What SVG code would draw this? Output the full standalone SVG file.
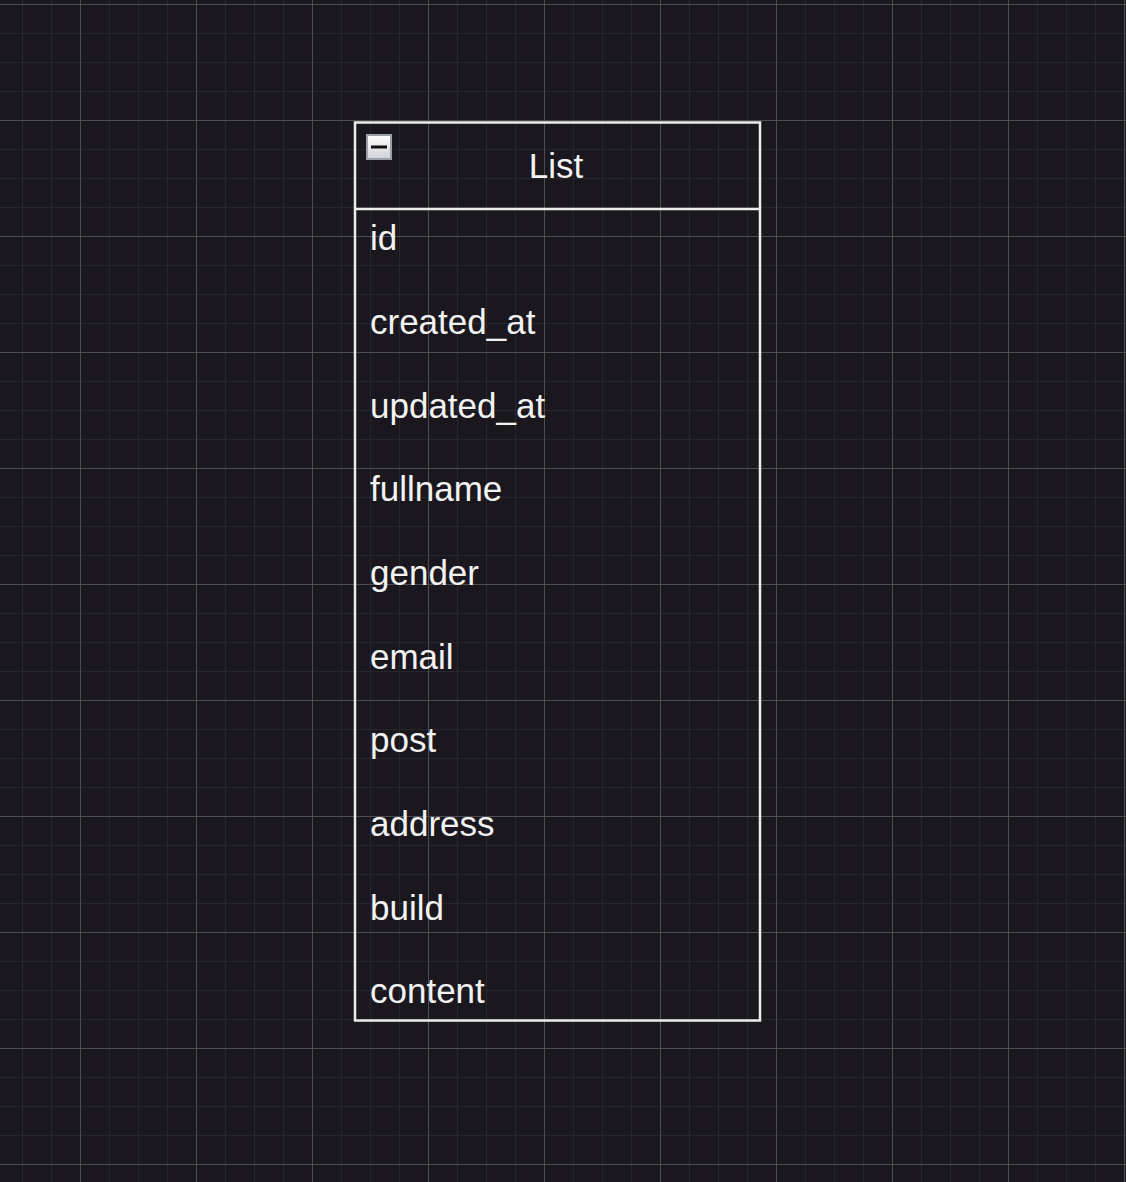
<svg xmlns="http://www.w3.org/2000/svg" width="1126" height="1182" viewBox="0 0 1126 1182">
  <style>
    .fld { font-family: "Liberation Sans", Arial, sans-serif; font-size: 35px; fill: #f2f2f2; }
    .title { font-family: "Liberation Sans", Arial, sans-serif; font-size: 35px; fill: #f2f2f2; text-anchor: middle; }
  </style>
  <defs>
    <pattern id="grid" patternUnits="userSpaceOnUse" x="80" y="4" width="116" height="116">
      <rect x="29" y="0" width="1" height="116" fill="#28262d"/>
      <rect x="58" y="0" width="1" height="116" fill="#28262d"/>
      <rect x="87" y="0" width="1" height="116" fill="#28262d"/>
      <rect x="0" y="29" width="116" height="1" fill="#28262d"/>
      <rect x="0" y="58" width="116" height="1" fill="#28262d"/>
      <rect x="0" y="87" width="116" height="1" fill="#28262d"/>
      <rect x="0" y="0" width="1" height="116" fill="#4e4d52"/>
      <rect x="0" y="0" width="116" height="1" fill="#4e4d52"/>
    </pattern>
    <linearGradient id="btn" x1="0" y1="0" x2="0" y2="1">
      <stop offset="0" stop-color="#ffffff"/>
      <stop offset="1" stop-color="#cfd2d6"/>
    </linearGradient>
  </defs>
  <rect x="0" y="0" width="1126" height="1182" fill="#1a181e"/>
  <rect x="0" y="0" width="1126" height="1182" fill="url(#grid)"/>
  <g id="node-list">
    <rect x="355" y="122.5" width="405" height="898" fill="none" stroke="#ececec" stroke-width="2.5"/>
    <line x1="355" y1="209" x2="760" y2="209" stroke="#ececec" stroke-width="2.5"/>
    <g id="collapse-btn">
      <rect x="367" y="135" width="24" height="24" fill="url(#btn)" stroke="#9aa0a8" stroke-width="2"/>
      <rect x="371" y="145.5" width="16" height="3" fill="#111"/>
    </g>
    <text class="title" x="556" y="178">List</text>
    <text class="fld" x="370" y="250">id</text>
    <text class="fld" x="370" y="334">created_at</text>
    <text class="fld" x="370" y="418">updated_at</text>
    <text class="fld" x="370" y="501">fullname</text>
    <text class="fld" x="370" y="585">gender</text>
    <text class="fld" x="370" y="669">email</text>
    <text class="fld" x="370" y="752">post</text>
    <text class="fld" x="370" y="836">address</text>
    <text class="fld" x="370" y="920">build</text>
    <text class="fld" x="370" y="1003">content</text>
  </g>
  <g id="connectors"></g>
</svg>
